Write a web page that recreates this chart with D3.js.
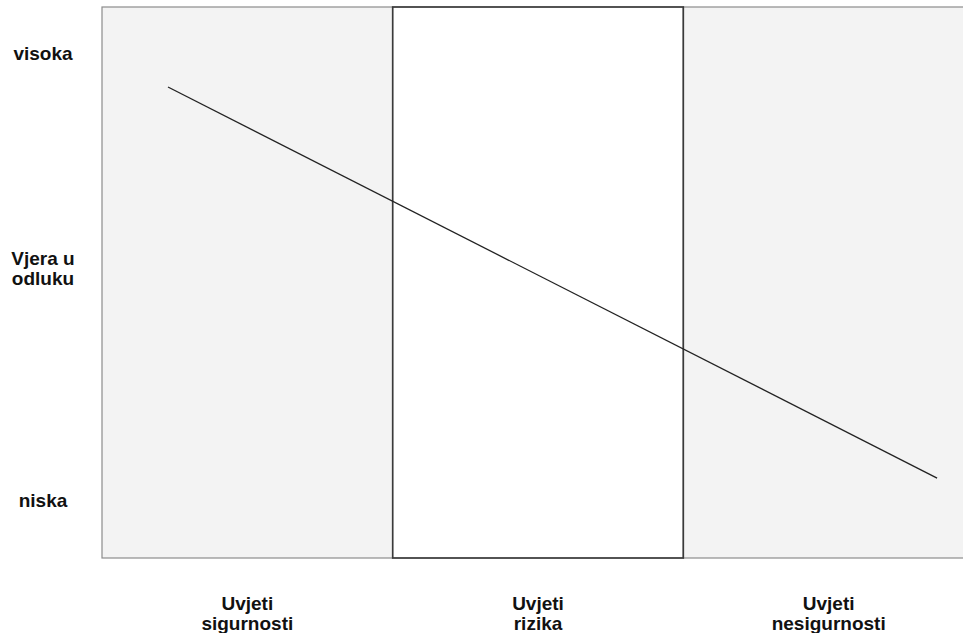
<!DOCTYPE html>
<html>
<head>
<meta charset="utf-8">
<script src="https://cdn.jsdelivr.net/npm/d3@7"></script>
<style>
  body { margin: 0; background: #fff; }
  text { font-family: "Liberation Sans", Arial, sans-serif; font-weight: bold; fill: #111; }
</style>
</head>
<body>
<div id="chart"></div>
<script>
const width = 963, height = 633;

// data
const conditions = [["Uvjeti", "sigurnosti"], ["Uvjeti", "rizika"], ["Uvjeti", "nesigurnosti"]];
const panelFill = ["#f3f3f3", "#ffffff", "#f3f3f3"];
const yTicks = [["visoka"], ["Vjera u", "odluku"], ["niska"]];
const yTickValues = [1, 0.52, 0];
// trend line: x in condition units (0..3), y in confidence (0..1)
const trendX = [0.227, 2.873];
const trendY = [0.924, 0.049];

const svg = d3.select("#chart")
    .append("svg")
    .attr("width", width)
    .attr("height", height);

const x = d3.scaleLinear().domain([0, 3]).range([102, 974]);
const y = d3.scaleLinear().domain([0, 1]).range([500, 53]);
const plotTop = 7, plotBottom = 558;
const lineH = 20;

// panels
svg.selectAll("rect.panel")
    .data(conditions)
    .enter().append("rect")
    .attr("class", "panel")
    .attr("x", (d, i) => x(i))
    .attr("y", plotTop)
    .attr("width", (d, i) => x(i + 1) - x(i))
    .attr("height", plotBottom - plotTop)
    .attr("fill", (d, i) => panelFill[i])
    .attr("stroke", "#8c8c8c")
    .attr("stroke-width", 1.2);

// middle panel darker border
svg.append("rect")
    .attr("x", x(1))
    .attr("y", plotTop)
    .attr("width", x(2) - x(1))
    .attr("height", plotBottom - plotTop)
    .attr("fill", "none")
    .attr("stroke", "#3a3a3a")
    .attr("stroke-width", 1.6);

// trend line
const pts = trendX.map((v, i) => [x(v), y(trendY[i])]);
svg.append("path")
    .attr("d", d3.line()(pts))
    .attr("fill", "none")
    .attr("stroke", "#222")
    .attr("stroke-width", 1.3);

// y labels
const yl = svg.selectAll("text.ylab")
    .data(yTicks)
    .enter().append("text")
    .attr("class", "ylab")
    .attr("text-anchor", "middle")
    .attr("font-size", 19)
    .attr("transform", (d, i) => `translate(43, ${y(yTickValues[i]) - (d.length - 1) * lineH / 2 + 7})`);
yl.selectAll("tspan")
    .data(d => d)
    .enter().append("tspan")
    .attr("x", 0)
    .attr("dy", (d, i) => i ? lineH : 0)
    .text(d => d);

// x labels
const xl = svg.selectAll("text.xlab")
    .data(conditions)
    .enter().append("text")
    .attr("class", "xlab")
    .attr("text-anchor", "middle")
    .attr("font-size", 19)
    .attr("transform", (d, i) => `translate(${Math.min(x(i + 0.5), (x(i) + width) / 2 + 6)}, 610)`);
xl.selectAll("tspan")
    .data(d => d)
    .enter().append("tspan")
    .attr("x", 0)
    .attr("dy", (d, i) => i ? lineH : 0)
    .text(d => d);
</script>
</body>
</html>
